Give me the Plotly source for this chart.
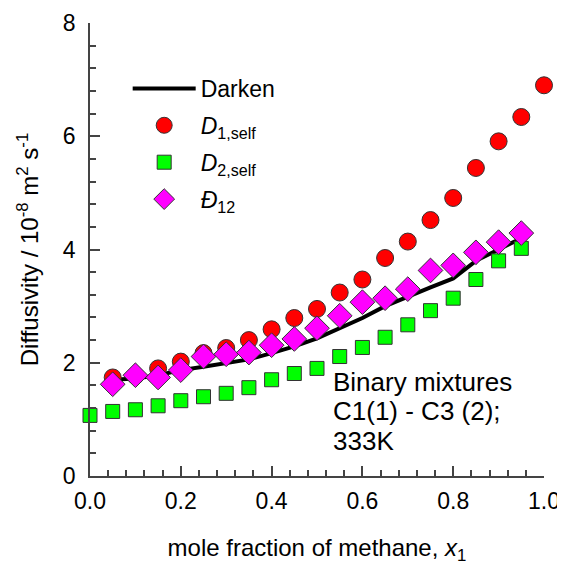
import plotly.graph_objects as go

x_d1 = [0.05, 0.10, 0.15, 0.20, 0.25, 0.30, 0.35, 0.40, 0.45, 0.50,
        0.55, 0.60, 0.65, 0.70, 0.75, 0.80, 0.85, 0.90, 0.95, 1.00]
d1_self = [1.74, 1.77, 1.90, 2.02, 2.17, 2.26, 2.40, 2.59, 2.79, 2.95,
           3.24, 3.47, 3.85, 4.14, 4.52, 4.91, 5.44, 5.91, 6.34, 6.90]

x_d2 = [0.00, 0.05, 0.10, 0.15, 0.20, 0.25, 0.30, 0.35, 0.40, 0.45,
        0.50, 0.55, 0.60, 0.65, 0.70, 0.75, 0.80, 0.85, 0.90, 0.95]
d2_self = [1.07, 1.14, 1.17, 1.24, 1.33, 1.40, 1.46, 1.56, 1.70, 1.81,
           1.90, 2.11, 2.27, 2.45, 2.67, 2.92, 3.14, 3.47, 3.80, 4.02]

x_ms = [0.05, 0.10, 0.15, 0.20, 0.25, 0.30, 0.35, 0.40, 0.45, 0.50,
        0.55, 0.60, 0.65, 0.70, 0.75, 0.80, 0.85, 0.90, 0.95]
d12 = [1.62, 1.78, 1.74, 1.87, 2.11, 2.15, 2.18, 2.31, 2.42, 2.61,
       2.83, 3.07, 3.14, 3.30, 3.63, 3.72, 3.95, 4.13, 4.29]

darken = [1.70, 1.72, 1.78, 1.87, 1.93, 1.99, 2.06, 2.17, 2.29, 2.43,
          2.61, 2.79, 3.00, 3.17, 3.33, 3.49, 3.80, 4.00, 4.20]

note_lines = ["Binary mixtures", "C1(1) - C3 (2);", "333K"]
note_y = [1.66, 1.148, 0.618]

FONT = "Arial, Liberation Sans, sans-serif"

fig = go.Figure()
fig.add_trace(go.Scatter(x=x_ms, y=darken, mode="lines", name="Darken",
                         line=dict(color="black", width=4), legendgroup="a",
                         cliponaxis=False))
fig.add_trace(go.Scatter(x=x_d1, y=d1_self, mode="markers",
                         name="<i>D</i><sub>1,self</sub>", legendgroup="b",
                         marker=dict(symbol="circle", size=17, color="#ff0000",
                                     line=dict(color="#333333", width=1)),
                         cliponaxis=False))
fig.add_trace(go.Scatter(x=x_d2, y=d2_self, mode="markers",
                         name="<i>D</i><sub>2,self</sub>", legendgroup="c",
                         marker=dict(symbol="square", size=14, color="#00ff00",
                                     line=dict(color="#333333", width=1)),
                         cliponaxis=False))
fig.add_trace(go.Scatter(x=x_ms, y=d12, mode="markers",
                         name="<i>Đ</i><sub>12</sub>", legendgroup="d",
                         marker=dict(symbol="diamond", size=19, color="#ff00ff",
                                     line=dict(color="#333333", width=1)),
                         cliponaxis=False))

for txt, yy in zip(note_lines, note_y):
    fig.add_annotation(x=0.530, y=yy, xref="x", yref="y", xanchor="left", yanchor="middle",
                       align="left", showarrow=False, text=txt,
                       font=dict(family=FONT, size=26, color="black"))

axis_common = dict(
    showline=True, linecolor="#444444", linewidth=1.5, mirror=False,
    ticks="inside", tickcolor="#444444", tickwidth=1.5, ticklen=10,
    showgrid=False, zeroline=False, automargin=False,
    ticklabeloverflow="allow",
    tickfont=dict(family=FONT, size=23, color="black"),
)

fig.update_xaxes(range=[0, 1], dtick=0.2, tick0=0, tickformat=".1f",
                 ticklabelstandoff=4,
                 minor=dict(dtick=0.04, ticks="inside", ticklen=6, tickcolor="#444444", tickwidth=1.5),
                 title=dict(text="mole fraction of methane, <i>x</i><sub>1</sub>",
                            font=dict(family=FONT, size=24, color="black"), standoff=37),
                 **axis_common)
fig.update_yaxes(range=[0, 8], dtick=2, tick0=0,
                 ticklabelstandoff=8,
                 minor=dict(dtick=0.4, ticks="inside", ticklen=6, tickcolor="#444444", tickwidth=1.5),
                 title=dict(text="Diffusivity / 10<sup>-8</sup> m<sup>2</sup> s<sup>-1</sup>",
                            font=dict(family=FONT, size=24, color="black"), standoff=17),
                 **axis_common)

# page body has an 8px margin, so the figure is 557x557 placed at (8, 8)
fig.update_layout(
    width=557, height=557,
    margin=dict(l=82, r=21, t=15, b=89),
    plot_bgcolor="white", paper_bgcolor="white",
    showlegend=True,
    legend=dict(x=0.083, y=0.903, xanchor="left", yanchor="top",
                traceorder="grouped", tracegroupgap=4,
                font=dict(family=FONT, size=23, color="black"),
                bgcolor="rgba(0,0,0,0)", itemwidth=63),
)

fig.write_html("out.html")
